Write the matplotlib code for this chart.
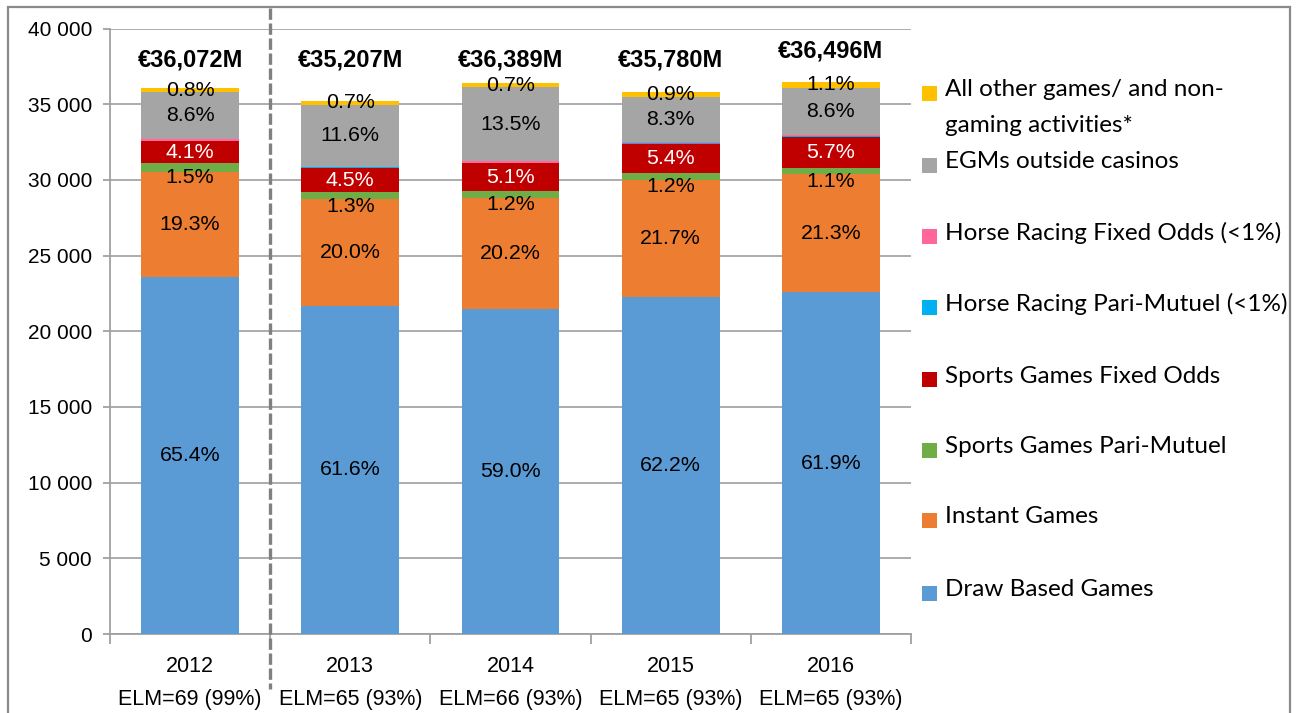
import matplotlib
matplotlib.use("Agg")
import matplotlib.pyplot as plt
from matplotlib.patches import Rectangle
from matplotlib.lines import Line2D
from matplotlib.ticker import FuncFormatter, FixedLocator, NullFormatter
from matplotlib.transforms import blended_transform_factory
import numpy as np

# ---------------- data ----------------
years = ["2012", "2013", "2014", "2015", "2016"]
elm_counts = [69, 65, 66, 65, 65]
elm_share = [99, 93, 93, 93, 93]
totals = [36072, 35207, 36389, 35780, 36496]  # EUR million

series_names = [
    "Draw Based Games",
    "Instant Games",
    "Sports Games Pari-Mutuel",
    "Sports Games Fixed Odds",
    "Horse Racing Pari-Mutuel (<1%)",
    "Horse Racing Fixed Odds (<1%)",
    "EGMs outside casinos",
    "All other games/ and non-\ngaming activities*",
]
draw_pct = [65.4, 61.6, 59.0, 62.2, 61.9]
instant_pct = [19.3, 20.0, 20.2, 21.7, 21.3]
sports_pm_pct = [1.5, 1.3, 1.2, 1.2, 1.1]
sports_fo_pct = [4.1, 4.5, 5.1, 5.4, 5.7]
horse_pm_pct = [0.05, 0.15, 0.05, 0.1, 0.1]
horse_fo_pct = [0.25, 0.15, 0.25, 0.2, 0.2]
egm_pct = [8.6, 11.6, 13.5, 8.3, 8.6]
other_pct = [0.8, 0.7, 0.7, 0.9, 1.1]

colors = ["#5B9BD5", "#ED7D31", "#70AD47", "#C00000",
          "#00B0F0", "#FF6699", "#A5A5A5", "#FFC000"]

# ---------------- figure ----------------
W, H = 1301, 713
fig = plt.figure(figsize=(W / 100, H / 100), dpi=100)
fig.patch.set_facecolor("white")

def fx(px):
    return px / W

def fy(py):
    return 1 - py / H

ax_l, ax_r, ax_t, ax_b = 110, 911, 28.5, 634
ax = fig.add_axes([fx(ax_l), fy(ax_b), fx(ax_r) - fx(ax_l), fy(ax_t) - fy(ax_b)])

arial = "Liberation Sans"
legend_font = "Lato"

pcts = [draw_pct, instant_pct, sports_pm_pct, sports_fo_pct,
        horse_pm_pct, horse_fo_pct, egm_pct, other_pct]
x = np.arange(len(years))
tot = np.array(totals, dtype=float)
bottom = np.zeros(len(years))
bar_w = 0.61
for k, (p, c) in enumerate(zip(pcts, colors)):
    vals = np.array(p) / 100.0 * tot
    ax.bar(x, vals, bar_w, bottom=bottom, color=c, edgecolor="none", zorder=3)
    if k not in (4, 5):
        for i in range(len(years)):
            yc = bottom[i] + vals[i] / 2
            dy = -7.5 if k == 2 else 0
            col = "white" if k == 3 else "black"
            ax.annotate(f"{p[i]:.1f}%", (x[i], yc), xytext=(0, dy),
                        textcoords="offset points", ha="center", va="center",
                        fontsize=15.4, family=arial, color=col, zorder=5)
    bottom += vals

# totals
for i in range(len(years)):
    ty = 37900 if i < 4 else 38500
    ax.text(x[i], ty, f"€{totals[i]:,}M", ha="center", va="center",
            fontsize=17, fontweight="bold", family=arial, zorder=5)

# axes styling
ax.set_xlim(-0.5, len(years) - 0.5)
ax.set_ylim(0, 40000)
ax.set_yticks(np.arange(0, 40001, 5000))
ax.yaxis.set_major_formatter(FuncFormatter(lambda v, p: f"{int(v):,}".replace(",", " ")))
ax.grid(axis="y", color="#A6A6A6", lw=1.3, zorder=0)
ax.set_axisbelow(True)
for s in ["top", "right"]:
    ax.spines[s].set_visible(False)
for s in ["left", "bottom"]:
    ax.spines[s].set_color("#A0A0A0")
    ax.spines[s].set_linewidth(1.3)
ax.tick_params(axis="y", length=5, width=1.3, color="#A0A0A0", pad=8,
               labelsize=15, labelcolor="black")
for t in ax.get_yticklabels():
    t.set_family(arial)

ax.xaxis.set_major_locator(FixedLocator(np.arange(-0.5, len(years), 1.0)))
ax.xaxis.set_major_formatter(NullFormatter())
ax.tick_params(axis="x", which="major", length=7, width=1.3, color="#A0A0A0")

# category labels (two lines each)
tr = blended_transform_factory(ax.transData, fig.transFigure)
for i in range(len(years)):
    ax.text(x[i], fy(667), years[i], transform=tr, ha="center", va="center",
            fontsize=15.5, family=arial, clip_on=False)
    ax.text(x[i], fy(700), f"ELM={elm_counts[i]} ({elm_share[i]}%)", transform=tr,
            ha="center", va="center", fontsize=15.5, family=arial, clip_on=False)

# dashed separator between 2012 and 2013
sep_x = ax_l + (ax_r - ax_l) / len(years)
fig.add_artist(Line2D([fx(sep_x), fx(sep_x)], [fy(8), fy(689)], transform=fig.transFigure,
                      color="#808080", lw=2.4, linestyle=(0, (3.4, 1.1)), zorder=10))

# outer frame
fig.add_artist(Rectangle((fx(8), -0.05), fx(1290) - fx(8), fy(7) + 0.05,
                         transform=fig.transFigure, fill=False, edgecolor="#8A8A8A",
                         lw=1.6, zorder=0))

# legend (manual, top to bottom)
marker_centers = [93.5, 165, 236.5, 307.5, 379.5, 450, 520, 593]
leg_order = list(range(len(series_names)))[::-1]
for yc, k in zip(marker_centers, leg_order):
    fig.add_artist(Rectangle((fx(922), fy(yc + 7.5)), fx(15), 15 / H,
                             transform=fig.transFigure, facecolor=colors[k],
                             edgecolor="none"))
    for j, line in enumerate(series_names[k].split("\n")):
        fig.text(fx(945), fy(yc + 3 + 35 * j), line, ha="left", va="baseline",
                 fontsize=17.5, family=legend_font, color="black")

fig.savefig("out.png", dpi=100, facecolor="white")
